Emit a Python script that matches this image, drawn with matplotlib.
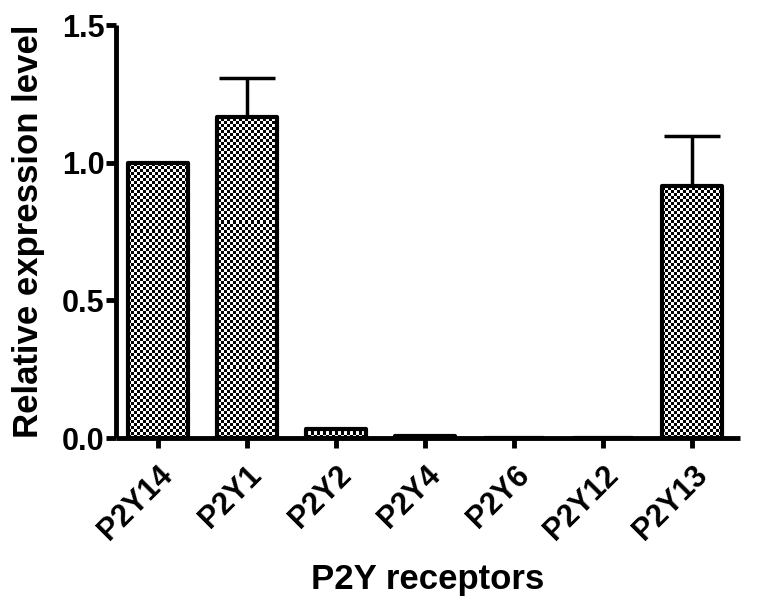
import numpy as np
import matplotlib
matplotlib.use('Agg')
import matplotlib.pyplot as plt

receptors = ['P2Y14', 'P2Y1', 'P2Y2', 'P2Y4', 'P2Y6', 'P2Y12', 'P2Y13']
expression = [1.0, 1.167, 0.033, 0.008, 0.0, 0.0, 0.916]
errors = [0.0, 0.14, 0.0, 0.0, 0.0, 0.0, 0.18]

plt.rcParams['font.family'] = ['Liberation Sans', 'DejaVu Sans']
plt.rcParams['font.weight'] = 'bold'

fig = plt.figure(figsize=(7.57, 6.0), dpi=100)
ax = fig.add_axes([0.153, 0.27, 0.825, 0.688])

x = np.arange(len(receptors))
xlim = (-0.47, 6.54)
ylim = (0, 1.5)

bars = ax.bar(x, expression, width=0.67, facecolor='none', edgecolor='black',
              linewidth=3, joinstyle='round', zorder=3)

# checkerboard fill, clipped to each bar
ny, nx = 413 // 3, 624 // 3
checker = (np.indices((ny, nx)).sum(axis=0) % 2).astype(float)
for b in bars:
    if b.get_height() <= 0:
        continue
    im = ax.imshow(checker, cmap='gray', extent=(xlim[0], xlim[1], ylim[0], ylim[1]),
                   interpolation='nearest', aspect='auto', zorder=2)
    im.set_clip_path(b)

ax.errorbar(x, expression, yerr=[np.zeros(len(errors)), errors], fmt='none',
            ecolor='black', elinewidth=2.5, capsize=20, capthick=2.5, zorder=1)
ax.set_xlim(*xlim)
ax.set_ylim(*ylim)

for s in ['top', 'right']:
    ax.spines[s].set_visible(False)
for s in ['left', 'bottom']:
    ax.spines[s].set_linewidth(3.5)
    ax.spines[s].set_capstyle('butt')

ax.set_yticks([0.0, 0.5, 1.0, 1.5])
ax.set_yticklabels(['0.0', '0.5', '1.0', '1.5'])
ax.set_xticks(x)
ax.set_xticklabels(receptors, rotation=45, ha='right', va='top', rotation_mode='anchor')
ax.tick_params(axis='both', width=3.5, length=7, labelsize=22)
ax.tick_params(axis='y', pad=1)
ax.tick_params(axis='x', pad=9)

ax.set_ylabel('Relative expression level', fontsize=25, fontweight='bold', labelpad=12)
ax.set_xlabel('P2Y receptors', fontsize=25, fontweight='bold', labelpad=12)

fig.savefig('out.png', dpi=100)
